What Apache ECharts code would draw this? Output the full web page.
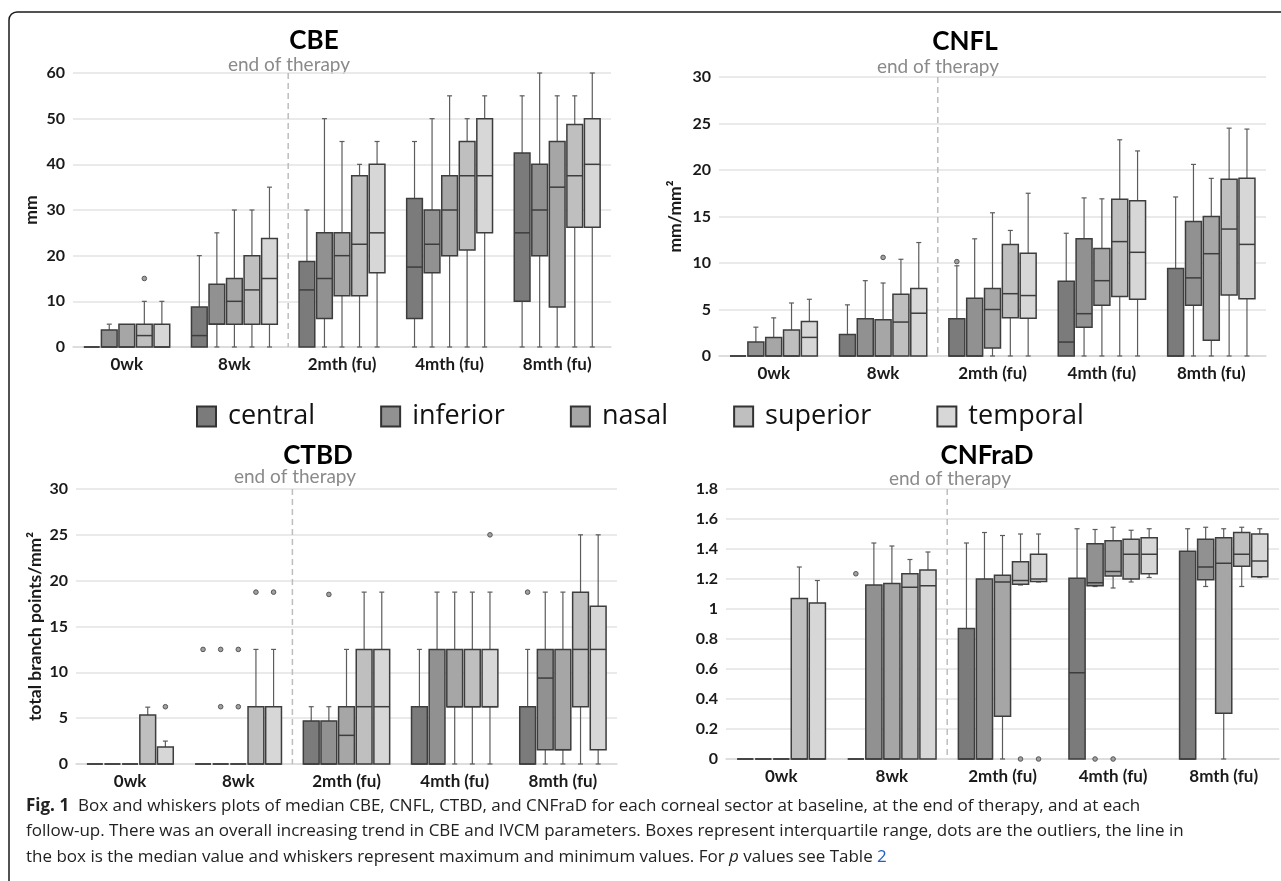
<!DOCTYPE html>
<html>
<head>
<meta charset="utf-8">
<script src="https://cdn.jsdelivr.net/npm/echarts@6/dist/echarts.min.js"></script>
<style>
  html, body { margin: 0; padding: 0; background: #fff; }
  #chart { width: 1281px; height: 881px; }
</style>
</head>
<body>
<div id="chart"></div>
<script>
// categories and sectors
var categories = ['0wk', '8wk', '2mth (fu)', '4mth (fu)', '8mth (fu)']
var sectors = ['central', 'inferior', 'nasal', 'superior', 'temporal']
// first category after the end of therapy (dashed marker sits on its left edge)
var therapyEndIndex = 2

// each row: [min, q1, median, q3, max] per category
var cbeCentral = [[0, 0, 0, 0, 0], [0, 0, 2.5, 8.75, 20], [0, 0, 12.5, 18.75, 30], [0, 6.25, 17.5, 32.5, 45], [0, 10, 25, 42.5, 55]]
var cbeInferior = [[0, 0, 0, 3.75, 5], [0, 5, 5, 13.75, 25], [0, 6.25, 15, 25, 50], [0, 16.25, 22.5, 30, 50], [0, 20, 30, 40, 60]]
var cbeNasal = [[0, 0, 0, 5, 5], [0, 5, 10, 15, 30], [0, 11.25, 20, 25, 45], [0, 20, 30, 37.5, 55], [0, 8.75, 35, 45, 55]]
var cbeSuperior = [[0, 0, 2.5, 5, 10], [0, 5, 12.5, 20, 30], [0, 11.25, 22.5, 37.5, 40], [0, 21.25, 37.5, 45, 50], [0, 26.25, 37.5, 48.75, 55]]
var cbeTemporal = [[0, 0, 0, 5, 10], [0, 5, 15, 23.75, 35], [0, 16.25, 25, 40, 45], [0, 25, 37.5, 50, 55], [0, 26.25, 40, 50, 60]]
// outliers: [category, sector, value]
var cbeOutliers = [[0, 3, 15]]

var cnflCentral = [[0, 0, 0, 0, 0], [0, 0, 0, 2.3, 5.5], [0, 0, 0, 4, 9.7], [0, 0, 1.5, 8.05, 13.2], [0, 0, 0, 9.4, 17.1]]
var cnflInferior = [[0, 0, 0, 1.5, 3.1], [0, 0, 0, 4, 8.1], [0, 0, 0, 6.2, 12.6], [0, 3.1, 4.55, 12.6, 17], [0, 5.45, 8.4, 14.45, 20.6]]
var cnflNasal = [[0, 0, 0, 2, 4.1], [0, 0, 0, 3.9, 7.85], [0, 0.85, 5, 7.25, 15.4], [0, 5.45, 8.1, 11.55, 16.9], [0, 1.7, 11, 15, 19.1]]
var cnflSuperior = [[0, 0, 0, 2.8, 5.7], [0, 0, 3.65, 6.65, 10.4], [0, 4.1, 6.7, 12, 13.5], [0, 6.4, 12.3, 16.85, 23.25], [0, 6.55, 13.65, 19, 24.5]]
var cnflTemporal = [[0, 0, 2, 3.7, 6.1], [0, 0, 4.6, 7.25, 12.2], [0, 4.05, 6.5, 11.05, 17.5], [0, 6.1, 11.15, 16.7, 22.05], [0, 6.15, 12, 19.1, 24.4]]
var cnflOutliers = [[1, 2, 10.6], [2, 0, 10.15]]

var ctbdCentral = [[0, 0, 0, 0, 0], [0, 0, 0, 0, 0], [0, 0, 0, 4.7, 6.25], [0, 0, 0, 6.25, 12.5], [0, 0, 0, 6.25, 12.5]]
var ctbdInferior = [[0, 0, 0, 0, 0], [0, 0, 0, 0, 0], [0, 0, 0, 4.7, 6.25], [0, 0, 0, 12.5, 18.75], [0, 1.56, 9.375, 12.5, 18.75]]
var ctbdNasal = [[0, 0, 0, 0, 0], [0, 0, 0, 0, 0], [0, 0, 3.125, 6.25, 12.5], [0, 6.25, 6.25, 12.5, 18.75], [0, 1.56, 1.56, 12.5, 18.75]]
var ctbdSuperior = [[0, 0, 0, 5.35, 6.2], [0, 0, 0, 6.25, 12.5], [0, 0, 6.25, 12.5, 18.75], [0, 6.25, 6.25, 12.5, 18.75], [0, 6.25, 12.5, 18.75, 25]]
var ctbdTemporal = [[0, 0, 0, 1.85, 2.5], [0, 0, 0, 6.25, 12.5], [0, 0, 6.25, 12.5, 18.75], [0, 6.25, 6.25, 12.5, 18.75], [0, 1.56, 12.5, 17.2, 25]]
var ctbdOutliers = [[0, 4, 6.25], [1, 0, 12.5], [1, 1, 12.5], [1, 2, 12.5], [1, 1, 6.25], [1, 2, 6.25],
  [1, 3, 18.75], [1, 4, 18.75], [2, 1, 18.5], [3, 4, 25], [4, 0, 18.75]]

var cnfradCentral = [[0, 0, 0, 0, 0], [0, 0, 0, 0, 0], [0, 0, 0, 0.87, 1.44], [0, 0, 0.575, 1.205, 1.535], [0, 0, 0, 1.385, 1.535]]
var cnfradInferior = [[0, 0, 0, 0, 0], [0, 0, 0, 1.16, 1.44], [0, 0, 0, 1.2, 1.51], [1.15, 1.155, 1.175, 1.435, 1.53], [1.15, 1.195, 1.28, 1.465, 1.545]]
var cnfradNasal = [[0, 0, 0, 0, 0], [0, 0, 0, 1.17, 1.42], [0, 0.285, 1.18, 1.225, 1.49], [1.14, 1.22, 1.25, 1.455, 1.545], [0, 0.305, 1.305, 1.475, 1.535]]
var cnfradSuperior = [[0, 0, 0, 1.07, 1.28], [0, 0, 1.145, 1.235, 1.33], [1.16, 1.165, 1.19, 1.315, 1.5], [1.18, 1.2, 1.365, 1.465, 1.525], [1.15, 1.285, 1.365, 1.51, 1.545]]
var cnfradTemporal = [[0, 0, 0, 1.04, 1.19], [0, 0, 1.155, 1.26, 1.38], [1.18, 1.183, 1.2, 1.365, 1.5], [1.21, 1.235, 1.365, 1.475, 1.535], [1.21, 1.215, 1.32, 1.5, 1.535]]
var cnfradOutliers = [[1, 0, 1.235], [2, 3, 0], [2, 4, 0], [3, 1, 0], [3, 2, 0]]

var panels = [
  { title: 'CBE', unit: 'mm', max: 60, interval: 10, boxes: [cbeCentral, cbeInferior, cbeNasal, cbeSuperior, cbeTemporal], outliers: cbeOutliers },
  { title: 'CNFL', unit: 'mm/mm²', max: 30, interval: 5, boxes: [cnflCentral, cnflInferior, cnflNasal, cnflSuperior, cnflTemporal], outliers: cnflOutliers },
  { title: 'CTBD', unit: 'total branch points/mm²', max: 30, interval: 5, boxes: [ctbdCentral, ctbdInferior, ctbdNasal, ctbdSuperior, ctbdTemporal], outliers: ctbdOutliers },
  { title: 'CNFraD', unit: '', max: 1.8, interval: 0.2, boxes: [cnfradCentral, cnfradInferior, cnfradNasal, cnfradSuperior, cnfradTemporal], outliers: cnfradOutliers }
]

var grids = [
  { left: 73, top: 73, width: 538, height: 274 },
  { left: 719, top: 77, width: 547, height: 279 },
  { left: 76, top: 489, width: 541, height: 275 },
  { left: 726, top: 489, width: 553, height: 270 }
]
var nameGaps = [33, 35, 32, 30]
var titlePos = [[314, 41, 289, 65], [965, 42, 938, 67], [318, 456, 295, 477], [987, 456, 950, 479]]

var fills = ['#7b7b7b', '#919191', '#a6a6a6', '#bfbfbf', '#d7d7d7']
var SLOT = 0.163
var BOXW = 0.146
var FONT = 'Lato, "Open Sans", sans-serif'

function offsetOf(api, s) {
  var band = api.size([1, 0])[0]
  return { off: (s - 2) * SLOT * band, w: BOXW * band }
}

function makeBox(s) {
  return function (params, api) {
    var cat = api.value(0)
    var o = offsetOf(api, s)
    var x = api.coord([cat, 0])[0] + o.off
    var y = function (v) { return api.coord([cat, v])[1] }
    var mn = api.value(1), q1 = api.value(2), md = api.value(3), q3 = api.value(4), mx = api.value(5)
    var wStyle = { stroke: '#5c5c5c', lineWidth: 1.2 }
    var kids = []
    if (mx > q3) {
      kids.push({ type: 'line', shape: { x1: x, y1: y(q3), x2: x, y2: y(mx) }, style: wStyle })
      kids.push({ type: 'line', shape: { x1: x - 2.5, y1: y(mx), x2: x + 2.5, y2: y(mx) }, style: wStyle })
    }
    if (mn < q1) {
      kids.push({ type: 'line', shape: { x1: x, y1: y(q1), x2: x, y2: y(mn) }, style: wStyle })
      kids.push({ type: 'line', shape: { x1: x - 2.5, y1: y(mn), x2: x + 2.5, y2: y(mn) }, style: wStyle })
    }
    kids.push({
      type: 'rect',
      shape: { x: x - o.w / 2, y: y(q3), width: o.w, height: y(q1) - y(q3) },
      style: { fill: api.visual('color'), stroke: '#3d3d3d', lineWidth: 1.5 }
    })
    kids.push({ type: 'line', shape: { x1: x - o.w / 2, y1: y(md), x2: x + o.w / 2, y2: y(md) }, style: { stroke: '#3d3d3d', lineWidth: 1.5 } })
    return { type: 'group', children: kids }
  }
}

function renderOutlier(params, api) {
  var cat = api.value(0)
  var o = offsetOf(api, api.value(1))
  var p = api.coord([cat, api.value(2)])
  return {
    type: 'circle',
    shape: { cx: p[0] + o.off, cy: p[1], r: 2.3 },
    style: { fill: '#a0a0a0', stroke: '#555', lineWidth: 1 }
  }
}

// dashed vertical marker on the left edge of a category band
function renderMarker(params, api) {
  var band = api.size([1, 0])[0]
  var x = api.coord([api.value(0), 0])[0] - band / 2
  var cs = params.coordSys
  return {
    type: 'line',
    shape: { x1: x, y1: cs.y, x2: x, y2: cs.y + cs.height },
    style: { stroke: '#bdbdbd', lineWidth: 1.5, lineDash: [6, 4] }
  }
}

var chart = echarts.init(document.getElementById('chart'))

var xAxes = [], yAxes = [], series = [], graphics = []

panels.forEach(function (pn, p) {
  xAxes.push({
    type: 'category',
    gridIndex: p,
    data: categories,
    axisLine: { lineStyle: { color: '#d9d9d9', width: 1.5 } },
    axisTick: { show: false },
    axisLabel: { fontFamily: FONT, fontWeight: 'bold', fontSize: 17, color: '#1a1a1a', margin: 9 },
    splitLine: { show: false }
  })
  yAxes.push({
    type: 'value',
    gridIndex: p,
    min: 0,
    max: pn.max,
    interval: pn.interval,
    name: pn.unit,
    nameLocation: 'middle',
    nameGap: nameGaps[p],
    nameTextStyle: { fontFamily: FONT, fontWeight: 'bold', fontSize: 17.5, color: '#1a1a1a' },
    axisLine: { show: false },
    axisTick: { show: false },
    axisLabel: { fontFamily: FONT, fontWeight: 'bold', fontSize: 16, color: '#1a1a1a', margin: 8 },
    splitLine: { lineStyle: { color: '#e3e3e3', width: 1.5 } }
  })
  series.push({
    name: pn.title + ' end of therapy',
    type: 'custom',
    xAxisIndex: p,
    yAxisIndex: p,
    renderItem: renderMarker,
    encode: { x: 0 },
    data: [[therapyEndIndex]],
    silent: true,
    z: 1
  })
  pn.boxes.forEach(function (rows, s) {
    series.push({
      name: sectors[s],
      type: 'custom',
      xAxisIndex: p,
      yAxisIndex: p,
      itemStyle: { color: fills[s] },
      renderItem: makeBox(s),
      dimensions: ['cat', 'min', 'q1', 'median', 'q3', 'max'],
      encode: { x: 0, y: [1, 2, 3, 4, 5] },
      data: rows.map(function (r, i) { return [i].concat(r) }),
      z: 3
    })
  })
  series.push({
    name: pn.title + ' outliers',
    type: 'custom',
    xAxisIndex: p,
    yAxisIndex: p,
    renderItem: renderOutlier,
    encode: { x: 0, y: 2 },
    data: pn.outliers,
    z: 4
  })
  var tp = titlePos[p]
  graphics.push({
    type: 'text', x: tp[0], y: tp[1],
    style: { text: pn.title, fontFamily: FONT, fontWeight: 'bold', fontSize: 26, fill: '#000', align: 'center', verticalAlign: 'middle' }
  })
  graphics.push({
    type: 'text', x: tp[2], y: tp[3],
    style: { text: 'end of therapy', fontFamily: FONT, fontSize: 19, fill: '#8a8a8a', align: 'center', verticalAlign: 'middle' }
  })
})

// frame: top and left edges with a rounded corner
graphics.push({
  type: 'rect',
  shape: { x: 9, y: 12, width: 1400, height: 1000, r: [8, 0, 0, 0] },
  style: { fill: 'none', stroke: '#1a1a1a', lineWidth: 1.5 },
  silent: true
})

// caption
var capFont = '"Open Sans", sans-serif'
var capSize = 17
var capLines = [
  '{b|Fig. 1}  Box and whiskers plots of median CBE, CNFL, CTBD, and CNFraD for each corneal sector at baseline, at the end of therapy, and at each',
  'follow-up. There was an overall increasing trend in CBE and IVCM parameters. Boxes represent interquartile range, dots are the outliers, the line in',
  'the box is the median value and whiskers represent maximum and minimum values. For {i|p} values see Table {l|2}'
]
capLines.forEach(function (t, i) {
  graphics.push({
    type: 'text', x: 26, y: 806 + i * 25.5,
    style: {
      text: t, fontFamily: capFont, fontSize: capSize, fill: '#222', verticalAlign: 'middle',
      rich: {
        b: { fontFamily: capFont, fontSize: capSize, fontWeight: 'bold', fill: '#222' },
        i: { fontFamily: capFont, fontSize: capSize, fontStyle: 'italic', fill: '#222' },
        l: { fontFamily: capFont, fontSize: capSize, fill: '#1f5fbf' }
      }
    }
  })
})

var option = {
  animation: false,
  grid: grids,
  xAxis: xAxes,
  yAxis: yAxes,
  legend: {
    data: sectors,
    left: 191,
    top: 398,
    icon: 'rect',
    itemWidth: 19,
    itemHeight: 20,
    itemGap: 65,
    selectedMode: false,
    itemStyle: { borderColor: '#333', borderWidth: 2 },
    textStyle: { fontFamily: '"Open Sans", sans-serif', fontSize: 27, color: '#111', padding: [0, 0, 0, 7] }
  },
  graphic: graphics,
  series: series
}

option && chart.setOption(option)
</script>
</body>
</html>
